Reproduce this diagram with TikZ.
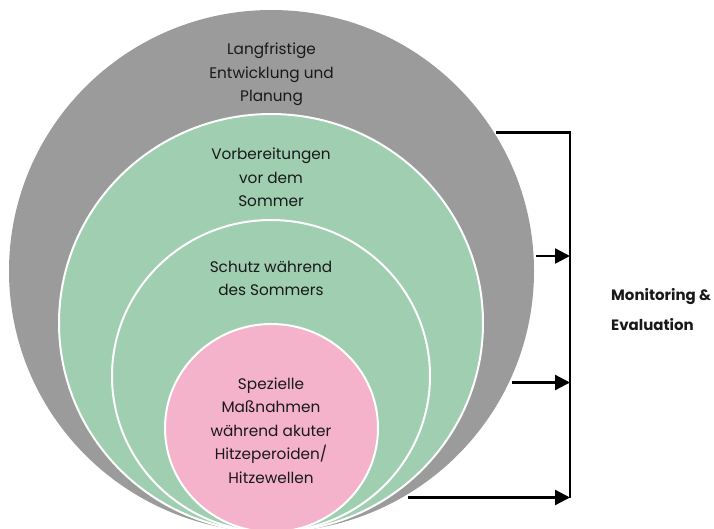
\documentclass[tikz,border=0pt]{standalone}
\usepackage{fontspec}
\setmainfont{Poppins}
\usetikzlibrary{arrows.meta}
\definecolor{ringgray}{RGB}{155,155,155}
\definecolor{ringgreen}{RGB}{159,206,177}
\definecolor{ringpink}{RGB}{244,179,203}
\definecolor{txt}{RGB}{25,25,25}
\tikzset{
  ring/.style={draw=white, line width=2pt},
  lbl/.style={align=center, text=txt, font=\fontsize{15.3}{23.5}\selectfont, inner sep=0pt},
  mon/.style={align=left, anchor=west, text=txt, font=\fontsize{15}{30}\selectfont\bfseries, inner sep=0pt},
  conn/.style={line width=2.3pt, black},
  arr/.style={conn, -{Triangle[length=15pt,width=15pt]}}
}
\begin{document}
\begin{tikzpicture}[x=1pt,y=-1pt]
\useasboundingbox (0,0) rectangle (714,528);
\clip (0,0) rectangle (714,528);
\fill[ringgray] (271.5,271) ellipse [x radius=262.5, y radius=261];
\filldraw[ring, fill=ringgreen] (271,323) ellipse [x radius=212, y radius=209];
\filldraw[ring, fill=ringgreen] (271,376) ellipse [x radius=159, y radius=156];
\filldraw[ring, fill=ringpink] (271.5,428) ellipse [x radius=106.5, y radius=104];
\node[lbl] (t1) at (271.5,74.5) {Langfristige\\Entwicklung und\\Planung};
\node[lbl] (t2) at (271,177.5) {Vorbereitungen\\vor dem\\Sommer};
\node[lbl] (t3) at (271,278.5) {Schutz während\\des Sommers};
\node[lbl] (t4) at (271,430.5) {Spezielle\\Maßnahmen\\während akuter\\Hitzeperoiden/\\Hitzewellen};
\node[mon] (mon) at (611,310) {Monitoring \&\\Evaluation};
\coordinate (top) at (496,132.5);
\coordinate (corner) at (570,132.5);
\coordinate (bottom) at (570,497.5);
\coordinate (a1s) at (536,256);
\coordinate (a1e) at (570,256);
\coordinate (a2s) at (512,382.5);
\coordinate (a2e) at (570,382.5);
\coordinate (a3s) at (408,497.5);
\coordinate (a3e) at (570,497.5);
\draw[conn] (top) -- (corner) -- (bottom);
\draw[arr] (a1s) -- (a1e);
\draw[arr] (a2s) -- (a2e);
\draw[arr] (a3s) -- (a3e);
\end{tikzpicture}
\end{document}
